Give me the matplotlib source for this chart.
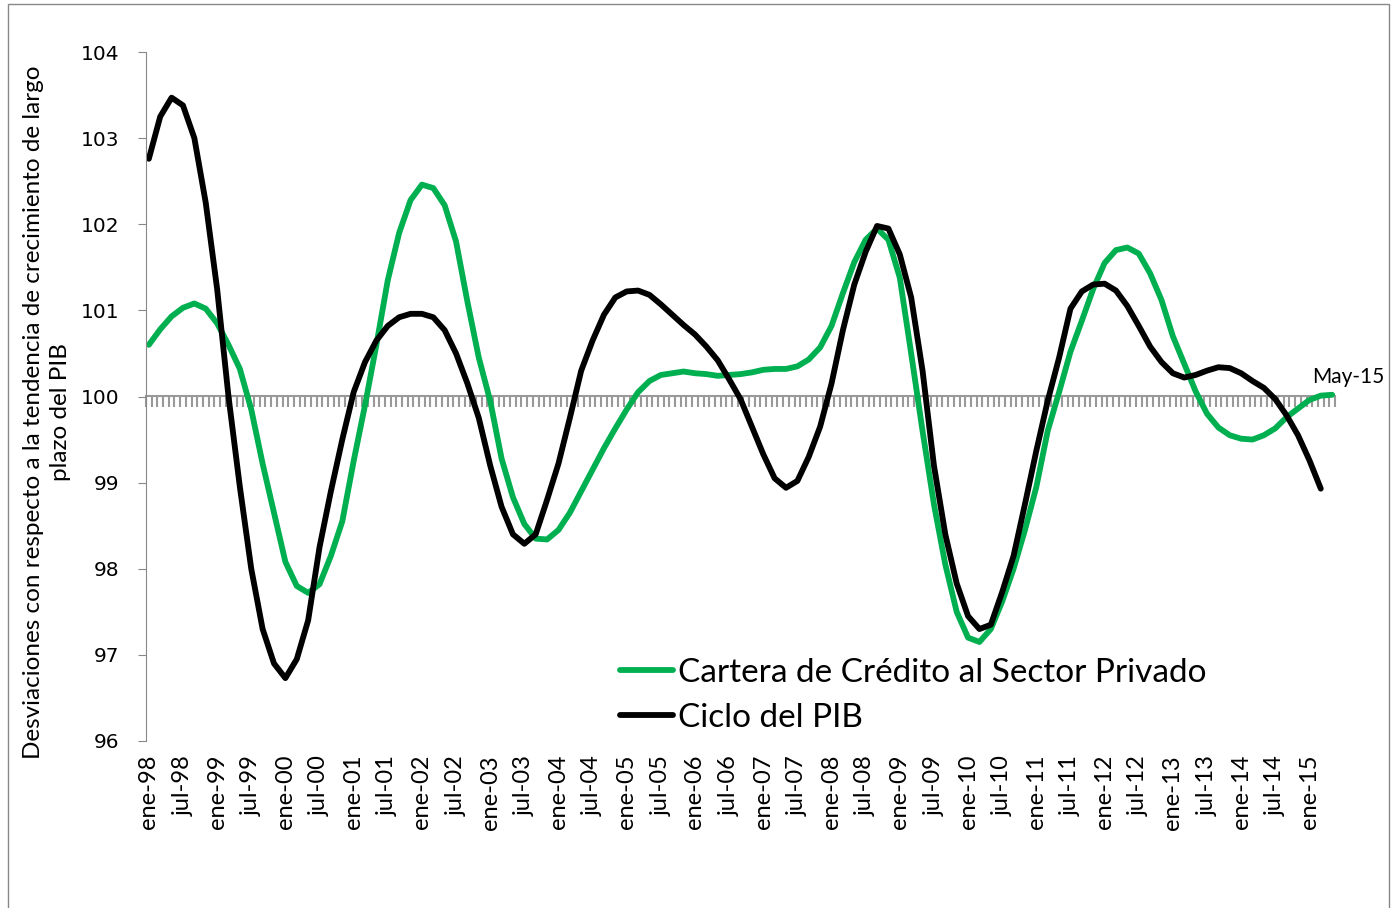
import matplotlib
matplotlib.use("Agg")
import matplotlib.pyplot as plt
from matplotlib.patches import Rectangle
import numpy as np

# months since ene-98, every 2 months
months_g = list(range(0, 209, 2))
credito = [100.60, 100.78, 100.93, 101.03, 101.08, 101.02, 100.85, 100.60, 100.32, 99.85,
           99.22, 98.65, 98.08, 97.80, 97.72, 97.82, 98.15, 98.55, 99.25, 99.90,
           100.60, 101.35, 101.90, 102.28, 102.46, 102.42, 102.22, 101.80, 101.10, 100.45,
           99.95, 99.28, 98.83, 98.52, 98.35, 98.34, 98.45, 98.65, 98.90, 99.15,
           99.40, 99.63, 99.85, 100.05, 100.18, 100.25, 100.27, 100.29, 100.27, 100.26,
           100.24, 100.25, 100.26, 100.28, 100.31, 100.32, 100.32, 100.35, 100.43, 100.57,
           100.82, 101.20, 101.56, 101.82, 101.95, 101.82, 101.38, 100.50, 99.60, 98.75,
           98.05, 97.50, 97.20, 97.15, 97.30, 97.62, 98.00, 98.45, 98.95, 99.60,
           100.05, 100.52, 100.88, 101.25, 101.55, 101.70, 101.73, 101.66, 101.43, 101.12,
           100.70, 100.38, 100.06, 99.80, 99.64, 99.55, 99.51, 99.50, 99.55, 99.63,
           99.76, 99.86, 99.96, 100.01, 100.02]

months_b = list(range(0, 207, 2))
pib = [102.76, 103.25, 103.47, 103.38, 103.00, 102.25, 101.25, 100.00, 98.95, 98.00,
       97.30, 96.90, 96.73, 96.95, 97.40, 98.25, 98.90, 99.50, 100.05, 100.40,
       100.65, 100.82, 100.92, 100.96, 100.96, 100.92, 100.77, 100.50, 100.15, 99.75,
       99.20, 98.72, 98.40, 98.29, 98.40, 98.80, 99.22, 99.75, 100.30, 100.65,
       100.95, 101.15, 101.22, 101.23, 101.18, 101.07, 100.95, 100.83, 100.72, 100.58,
       100.42, 100.20, 99.97, 99.65, 99.33, 99.05, 98.94, 99.02, 99.30, 99.65,
       100.15, 100.77, 101.30, 101.68, 101.98, 101.95, 101.65, 101.15, 100.30, 99.20,
       98.40, 97.83, 97.45, 97.30, 97.35, 97.73, 98.15, 98.75, 99.37, 99.95,
       100.45, 101.02, 101.22, 101.30, 101.31, 101.23, 101.05, 100.82, 100.58, 100.40,
       100.27, 100.22, 100.25, 100.30, 100.34, 100.33, 100.27, 100.18, 100.10, 99.97,
       99.78, 99.55, 99.26, 98.93]

years = ["98", "99", "00", "01", "02", "03", "04", "05", "06", "07", "08", "09",
         "10", "11", "12", "13", "14", "15"]
tick_pos = list(range(0, 205, 6))
tick_labels = [f"{m}-{y}" for y in years for m in ("ene", "jul")][:len(tick_pos)]

fig = plt.figure(figsize=(13.92, 9.08), dpi=100)
ax = fig.add_axes([146 / 1392, 1 - 741 / 908, (1335 - 146) / 1392, (741 - 52) / 908])

ax.plot(months_g, credito, color="#00B050", lw=4.2, solid_joinstyle="round",
        solid_capstyle="round", label="Cartera de Crédito al Sector Privado")
ax.plot(months_b, pib, color="black", lw=4.2, solid_joinstyle="round",
        solid_capstyle="round", label="Ciclo del PIB")

ax.set_xlim(-0.5, 208.5)
ax.set_ylim(96, 104)
ax.set_yticks(range(96, 105))
ax.tick_params(axis="y", direction="out", length=6, color="#888888",
               labelsize=14.5, pad=13)
for s in ("top", "right", "bottom"):
    ax.spines[s].set_visible(False)
ax.spines["left"].set_color("#888888")

ax.set_xticks(tick_pos)
ax.set_xticklabels(tick_labels, rotation=90, fontsize=17, family=["Lato", "DejaVu Sans"])
ax.tick_params(axis="x", length=0, pad=10)

# category axis crossing at 100
sec = ax.secondary_xaxis(0.5)
for sp in sec.spines.values():
    sp.set_color("#999999")
    sp.set_linewidth(1.5)
sec.set_xticks(np.arange(-0.5, 209, 1))
sec.set_xticklabels([])
sec.tick_params(axis="x", direction="in", length=8, width=1.5, color="#999999")

ax.set_ylabel("Desviaciones con respecto a la tendencia de crecimiento de largo\nplazo del PIB",
              fontsize=17.5, family=["Lato", "DejaVu Sans"], linespacing=1.35)
ax.yaxis.set_label_coords(-0.063, 0.477)

ax.annotate("May-15", xy=(months_g[-1], credito[-1]), xytext=(-20, 8),
            textcoords="offset pixels", ha="left", va="bottom", fontsize=15,
            family=["Lato", "DejaVu Sans"])

leg = ax.legend(loc="upper left", bbox_to_anchor=(590 / 1392, 1 - 628 / 908),
                bbox_transform=fig.transFigure, frameon=False, handlelength=1.6,
                handletextpad=0.15, labelspacing=0.45,
                prop={"family": ["Lato", "DejaVu Sans"], "size": 24})

fig.patches.append(Rectangle((8 / 1392, -0.01), 1381 / 1392, 1.01 - 4 / 908,
                             transform=fig.transFigure, fill=False,
                             edgecolor="#888888", lw=1))

fig.savefig("out.png", dpi=100)
